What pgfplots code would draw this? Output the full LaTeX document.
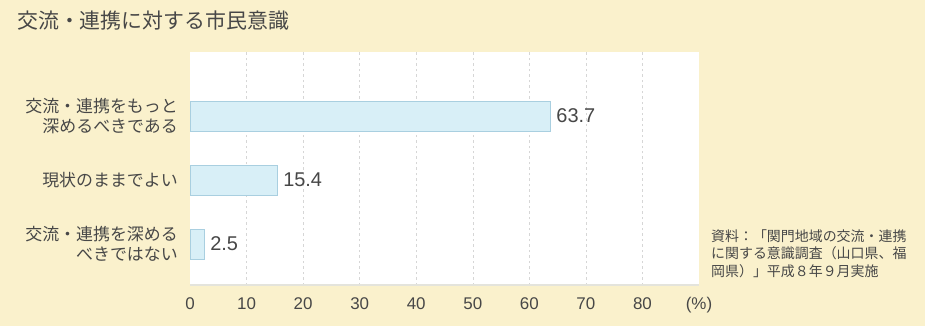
\documentclass[border=0pt]{standalone}
\usepackage{fontspec}
\usepackage{pgfplots}
\pgfplotsset{compat=1.18}
\setmainfont{Liberation Sans}
\newfontfamily\jp{Noto Sans CJK JP}

\definecolor{paper}{HTML}{FAF1CC}
\definecolor{barfill}{HTML}{D8EFF7}
\definecolor{barline}{HTML}{A9CFE0}
\definecolor{ink}{HTML}{474747}
\definecolor{gridc}{HTML}{D6D6D6}
\definecolor{paneledge}{HTML}{E4E4DC}

\begin{document}
\begin{tikzpicture}[x=1bp,y=1bp]
  % page background
  \fill[paper] (0,0) rectangle (925,326);

  % title
  \node[anchor=west, inner sep=0pt, text=ink,
        font=\jp\fontsize{21}{21}\selectfont] at (17,305) {交流・連携に対する市民意識};

  \begin{axis}[
      at={(190bp,41bp)}, anchor=south west,
      width=509bp, height=233bp, scale only axis,
      xmin=0, xmax=90, ymin=0.36, ymax=4.0,
      axis line style={draw=none},
      axis background/.style={fill=white},
      major tick length=0pt,
      xtick={10,20,...,80},
      extra x ticks={0,90},
      extra x tick labels={0,(\%)},
      extra x tick style={grid=none},
      xmajorgrids,
      grid style={gridc, dash pattern=on 2.5pt off 3pt},
      xticklabel style={text=ink, font=\fontsize{17}{17}\selectfont,
                        inner sep=0pt, yshift=-12bp},
      /pgf/number format/assume math mode=true,
      ytick={1,2,3},
      yticklabels={{交流・連携を深める\\べきではない},
                   {現状のままでよい},
                   {交流・連携をもっと\\深めるべきである}},
      yticklabel style={align=right, text=ink, inner sep=0pt, xshift=-12bp,
                        font=\jp\fontsize{17}{20}\selectfont},
      clip=false,
    ]
    % soft lower edge of the plotting panel
    \draw[draw=paneledge, line width=2bp] (axis cs:0,0.36) -- (axis cs:90,0.36);
    \addplot[xbar, bar width=30bp, fill=barfill, draw=barline,
             nodes near coords,
             nodes near coords style={anchor=west, text=ink, inner sep=0pt,
                                      xshift=6bp, font=\fontsize{20}{20}\selectfont},
             point meta=explicit symbolic]
      coordinates {(63.7,3) [63.7] (15.4,2) [15.4] (2.5,1) [2.5]};
  \end{axis}

  % source note
  \node[anchor=north west, align=left, inner sep=0pt, text=ink,
        font=\jp\fontsize{14}{18}\selectfont] at (711,97)
    {資料：「関門地域の交流・連携\\に関する意識調査（山口県、福\\岡県）」平成８年９月実施};
\end{tikzpicture}
\end{document}
